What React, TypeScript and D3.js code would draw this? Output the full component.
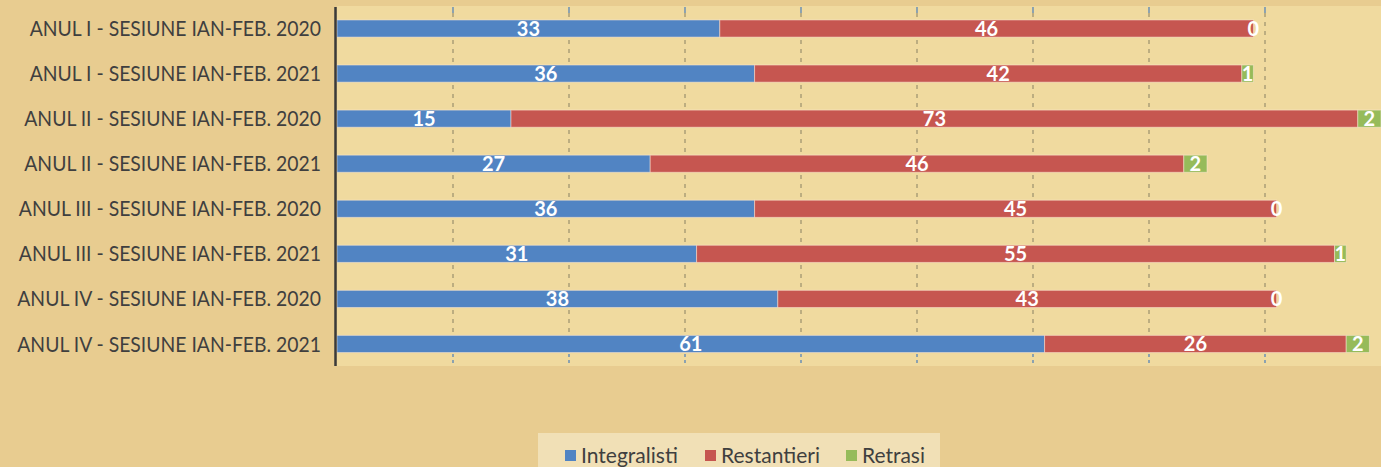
import React, { useEffect, useRef } from 'react';
import * as d3 from 'd3';

const categories = [
  'ANUL I - SESIUNE IAN-FEB. 2020',
  'ANUL I - SESIUNE IAN-FEB. 2021',
  'ANUL II - SESIUNE IAN-FEB. 2020',
  'ANUL II - SESIUNE IAN-FEB. 2021',
  'ANUL III - SESIUNE IAN-FEB. 2020',
  'ANUL III - SESIUNE IAN-FEB. 2021',
  'ANUL IV - SESIUNE IAN-FEB. 2020',
  'ANUL IV - SESIUNE IAN-FEB. 2021',
];
const integralisti = [33, 36, 15, 27, 36, 31, 38, 61];
const restantieri = [46, 42, 73, 46, 45, 55, 43, 26];
const retrasi = [0, 1, 2, 2, 0, 1, 0, 2];
const seriesNames = ['Integralisti', 'Restantieri', 'Retrasi'];
const seriesColors = ['#5184c3', '#c65650', '#96bb5a'];
const gridTicks = [10, 20, 30, 40, 50, 60, 70, 80];

const W = 1381;
const H = 467;
const FONT = 'Lato, "Open Sans", sans-serif';

const Chart = () => {
  const svgRef = useRef(null);

  useEffect(() => {
    const svg = d3.select(svgRef.current);
    svg.selectAll('*').remove();

    const x = d3.scaleLinear().domain([0, 90]).range([337, 1381]);
    const y = d3
      .scaleBand()
      .domain(categories)
      .range([6, 366.5])
      .paddingInner(0.62)
      .paddingOuter(0.31);

    // background
    svg.append('rect').attr('width', W).attr('height', H).attr('fill', '#e8cc90');
    svg
      .append('rect')
      .attr('x', x(0))
      .attr('y', 6)
      .attr('width', W - x(0))
      .attr('height', 360)
      .attr('fill', '#f0da9f');

    // gridlines
    const grid = svg.append('g');
    grid
      .selectAll('line.grid')
      .data(gridTicks)
      .join('line')
      .attr('class', 'grid')
      .attr('x1', (d) => x(d))
      .attr('x2', (d) => x(d))
      .attr('y1', 13)
      .attr('y2', 353)
      .attr('stroke', '#5f5a4a')
      .attr('stroke-width', 1)
      .attr('stroke-dasharray', '4,5')
      .attr('opacity', 0.7);
    grid
      .selectAll('line.ttop')
      .data(gridTicks)
      .join('line')
      .attr('class', 'ttop')
      .attr('x1', (d) => x(d))
      .attr('x2', (d) => x(d))
      .attr('y1', 7)
      .attr('y2', 13)
      .attr('stroke', '#4a7ebb')
      .attr('stroke-width', 1.2);
    grid
      .selectAll('line.tbot')
      .data(gridTicks)
      .join('line')
      .attr('class', 'tbot')
      .attr('x1', (d) => x(d))
      .attr('x2', (d) => x(d))
      .attr('y1', 354)
      .attr('y2', 366)
      .attr('stroke', '#4a7ebb')
      .attr('stroke-width', 1.2)
      .attr('stroke-dasharray', '3,3');

    // stacked bars
    const rows = categories.map((c, i) => ({
      cat: c,
      Integralisti: integralisti[i],
      Restantieri: restantieri[i],
      Retrasi: retrasi[i],
    }));
    const stacked = d3.stack().keys(seriesNames)(rows);

    stacked.forEach((layer, si) => {
      const g = svg.append('g');
      g.selectAll('rect')
        .data(layer)
        .join('rect')
        .attr('x', (d) => x(d[0]))
        .attr('y', (d) => y(d.data.cat))
        .attr('width', (d) => x(d[1]) - x(d[0]))
        .attr('height', y.bandwidth())
        .attr('fill', seriesColors[si])
        .attr('stroke', 'rgba(255,235,220,0.5)')
        .attr('stroke-width', 1);
    });

    // data labels
    stacked.forEach((layer) => {
      svg
        .append('g')
        .selectAll('text')
        .data(layer)
        .join('text')
        .attr('x', (d) => (x(d[0]) + x(d[1])) / 2)
        .attr('y', (d) => y(d.data.cat) + y.bandwidth() / 2)
        .attr('dy', '0.36em')
        .attr('text-anchor', 'middle')
        .attr('fill', '#ffffff')
        .attr('font-family', FONT)
        .attr('font-weight', 700)
        .attr('font-size', 20)
        .text((d) => d[1] - d[0]);
    });

    // axis line
    svg
      .append('line')
      .attr('x1', 335.5)
      .attr('x2', 335.5)
      .attr('y1', 7)
      .attr('y2', 366)
      .attr('stroke', '#3a3a3a')
      .attr('stroke-width', 2.5);

    // category labels
    const labels = svg
      .append('g')
      .selectAll('text')
      .data(categories)
      .join('text')
      .attr('font-family', FONT)
      .attr('font-size', 21)
      .attr('fill', '#3f3f3f')
      .attr('text-anchor', 'end')
      .attr('dy', '0.36em')
      .text((d) => d);
    let maxW = 0;
    labels.each(function () {
      maxW = Math.max(maxW, this.getComputedTextLength());
    });
    const sx = maxW > 0 ? 304 / maxW : 1;
    labels.attr(
      'transform',
      (d) => `translate(321,${y(d) + y.bandwidth() / 2}) scale(${sx},1)`
    );

    // legend
    const lg = svg.append('g');
    lg.append('rect')
      .attr('x', 538)
      .attr('y', 433)
      .attr('width', 402)
      .attr('height', 34)
      .attr('fill', '#f2e3bd')
      .attr('opacity', 0.85);
    const legendItems = [
      { name: seriesNames[0], mx: 565, tx: 581, w: 97 },
      { name: seriesNames[1], mx: 705, tx: 721, w: 99 },
      { name: seriesNames[2], mx: 846, tx: 862, w: 63 },
    ];
    legendItems.forEach((it, i) => {
      lg.append('rect')
        .attr('x', it.mx)
        .attr('y', 450)
        .attr('width', 11)
        .attr('height', 11)
        .attr('fill', seriesColors[i]);
      const t = lg
        .append('text')
        .attr('font-family', FONT)
        .attr('font-size', 22)
        .attr('fill', '#3f3f3f')
        .attr('dy', '0.36em')
        .text(it.name);
      const tw = t.node().getComputedTextLength();
      t.attr('transform', `translate(${it.tx},455) scale(${it.w / tw},1)`);
    });
  }, []);

  return <svg ref={svgRef} width={W} height={H} style={{ display: 'block' }} />;
};

export default function App() {
  return (
    <div style={{ position: 'absolute', left: 0, top: 0 }}>
      <Chart />
    </div>
  );
}
